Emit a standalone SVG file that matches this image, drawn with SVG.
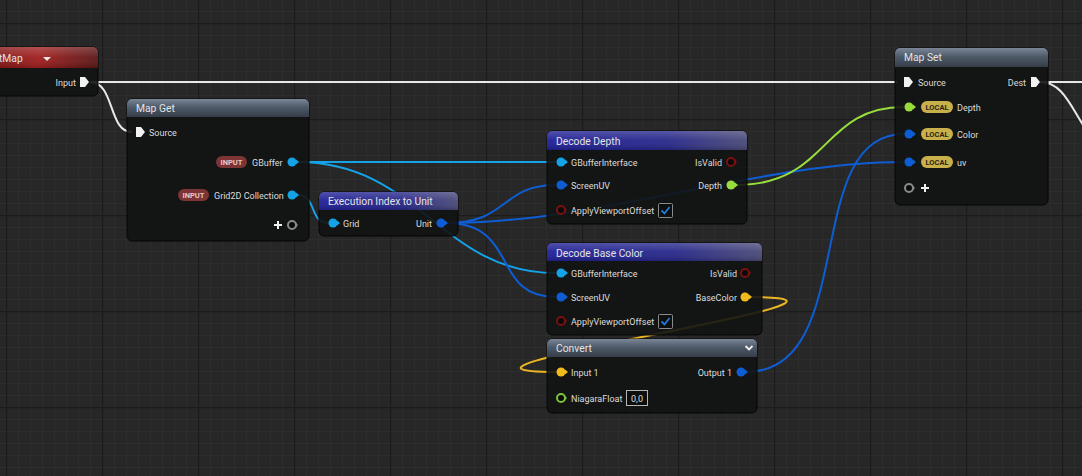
<svg xmlns="http://www.w3.org/2000/svg" width="1082" height="476" viewBox="0 0 1082 476">
<defs>
<pattern id="minor" width="12" height="12" x="6" y="11" patternUnits="userSpaceOnUse">
<path d="M0,0.5 H12 M0.5,0 V12" stroke="#2d2d2d" stroke-width="1" fill="none"/>
</pattern>
<pattern id="major" width="96" height="96" x="6" y="23" patternUnits="userSpaceOnUse">
<path d="M0,0.5 H96 M0.5,0 V96" stroke="#1c1c1c" stroke-width="1.5" fill="none"/>
</pattern>
<linearGradient id="hGray" x1="0" y1="0" x2="0" y2="1">
<stop offset="0" stop-color="#7a8696"/><stop offset="0.45" stop-color="#4f5b69"/><stop offset="1" stop-color="#353d48"/>
</linearGradient>
<linearGradient id="hBlue" x1="0" y1="0" x2="1" y2="0">
<stop offset="0" stop-color="#1f1f96"/><stop offset="0.6" stop-color="#27278a"/><stop offset="1" stop-color="#4a4a78"/>
</linearGradient>
<linearGradient id="hRed" x1="0" y1="0" x2="1" y2="0">
<stop offset="0" stop-color="#7a1414"/><stop offset="0.5" stop-color="#a01e1e"/><stop offset="1" stop-color="#5a1616"/>
</linearGradient>
<linearGradient id="gloss" x1="0" y1="0" x2="0" y2="1">
<stop offset="0" stop-color="#ffffff" stop-opacity="0.22"/><stop offset="0.5" stop-color="#ffffff" stop-opacity="0.05"/><stop offset="1" stop-color="#000000" stop-opacity="0.15"/>
</linearGradient>
<clipPath id="cMG"><rect x="127" y="99" width="182" height="142" rx="5"/></clipPath>
<clipPath id="cEI"><rect x="319" y="192" width="139" height="44" rx="5"/></clipPath>
<clipPath id="cDD"><rect x="547" y="131" width="200" height="93" rx="5"/></clipPath>
<clipPath id="cDB"><rect x="547" y="243" width="215" height="92" rx="5"/></clipPath>
<clipPath id="cCV"><rect x="547" y="339" width="210" height="74" rx="5"/></clipPath>
<clipPath id="cMS"><rect x="895" y="48" width="153" height="157" rx="5"/></clipPath>
<clipPath id="cTL"><rect x="-20" y="47" width="118" height="49" rx="5"/></clipPath>
</defs>
<style>
.body{fill:#121413;fill-opacity:0.9;stroke:#050505;stroke-width:1}
.title{font-family:Roboto,"Liberation Sans",sans-serif;font-size:10.3px;fill:#e4e4e4}
.lbl{font-family:Roboto,"Liberation Sans",sans-serif;font-size:9px;fill:#dcdcdc}
.r{text-anchor:end}
.badge{font-family:Roboto,"Liberation Sans",sans-serif;font-size:7.5px;font-weight:bold;text-anchor:middle}
.w{fill:none;stroke-width:2}
.exec{stroke:#e8e8e8}
.cyan{stroke:#15a3e8}
.blue{stroke:#0e5dd4}
.green{stroke:#98dd3c}
.yellow{stroke:#eab522}
.pc{fill:#15a3e8}
.pb{fill:#0e5dd4}
.pg{fill:#98dd3c}
.py{fill:#f2bb1c}
.ring{fill:#0a0a0a;stroke-width:2}
.epin{fill:#f2f2f2}
.ib{fill:#7c3434}
.lb{fill:#c9b04a}
.chk{fill:#0d0f0f;stroke:#8a8a8a;stroke-width:1}
.tick{fill:none;stroke:#1e7be0;stroke-width:1.8}
</style>
<rect width="1082" height="476" fill="#272727"/>
<rect width="1082" height="476" fill="url(#minor)"/>
<rect width="1082" height="476" fill="url(#major)"/>

<g id="connectors">
<path class="w exec" d="M90,82 H897"/>
<path class="w exec" d="M90,82 C115,82 108,132 132,132"/>
<path class="w exec" d="M1040,82 H1082"/>
<path class="w exec" d="M1040,82 C1062,82 1070,105 1085,128"/>
<path class="w cyan" d="M297,162 H556"/>
<path class="w cyan" d="M297,162 C420,162 440,273 556,273"/>
<path class="w cyan" d="M297,195 C318,195 308,223 329,223"/>
<path class="w blue" d="M446,223 C510,223 500,185 556,185"/>
<path class="w blue" d="M446,223 C520,223 490,297 556,297"/>
<path class="w blue" d="M446,223 C600,223 760,162 904,162"/>
<path class="w green" d="M736,185 C830,185 820,107 904,107"/>
<path class="w blue" d="M746,372 C860,372 800,134 904,134"/>
<path class="w yellow" d="M750,297 C930,297 380,372 556,372"/>
</g>

<g id="node-topleft">
<rect class="body" x="-20" y="47" width="118" height="49" rx="5"/>
<g clip-path="url(#cTL)"><rect x="-20" y="47" width="118" height="21" fill="url(#hRed)"/><rect x="-20" y="47" width="118" height="21" fill="url(#gloss)"/></g>
<text class="title" x="-1" y="62">tMap</text>
<path d="M43,57 H51 L47,61 Z" fill="#e8e8e8"/>
<text class="lbl r" x="76" y="86">Input</text>
<path class="epin" d="M80,77 H85 L89,82 L85,87 H80 Z"/>
</g>

<g id="node-mapget">
<rect class="body" x="127" y="99" width="182" height="142" rx="5"/>
<g clip-path="url(#cMG)"><rect x="127" y="99" width="182" height="18" fill="url(#hGray)"/></g>
<text class="title" x="136" y="112">Map Get</text>
<path class="epin" d="M136,127 H141 L145,132 L141,137 H136 Z"/>
<text class="lbl" x="149" y="135.5">Source</text>
<rect class="ib" x="216" y="156" width="31" height="12" rx="6"/>
<text class="badge" x="231.5" y="165" fill="#e6c7c7">INPUT</text>
<text class="lbl" x="252" y="165.5">GBuffer</text>
<circle class="pc" cx="292" cy="162" r="4.5"/><path class="pc" d="M296,159.5 L299,162 L296,164.5 Z"/>
<rect class="ib" x="178" y="189" width="31" height="12" rx="6"/>
<text class="badge" x="193.5" y="198" fill="#e6c7c7">INPUT</text>
<text class="lbl" x="214" y="198.5">Grid2D Collection</text>
<circle class="pc" cx="292" cy="195" r="4.5"/><path class="pc" d="M296,192.5 L299,195 L296,197.5 Z"/>
<path d="M274,225 H282 M278,221 V229" stroke="#f0f0f0" stroke-width="2"/>
<circle class="ring" cx="292" cy="225" r="4" stroke="#8a8a8a"/><path d="M296,223 L298,225 L296,227 Z" fill="#8a8a8a"/>
</g>

<g id="node-execindex">
<rect class="body" x="319" y="192" width="139" height="44" rx="5"/>
<g clip-path="url(#cEI)"><rect x="319" y="192" width="139" height="18" fill="url(#hBlue)"/><rect x="319" y="192" width="139" height="18" fill="url(#gloss)"/></g>
<text class="title" x="328" y="205">Execution Index to Unit</text>
<circle class="pc" cx="333" cy="223" r="4.5"/><path class="pc" d="M337,220.5 L340,223 L337,225.5 Z"/>
<text class="lbl" x="343" y="226.5">Grid</text>
<text class="lbl r" x="432" y="226.5">Unit</text>
<circle class="pb" cx="441" cy="223" r="4.5"/><path class="pb" d="M445,220.5 L448,223 L445,225.5 Z"/>
</g>

<g id="node-decodedepth">
<rect class="body" x="547" y="131" width="200" height="93" rx="5"/>
<g clip-path="url(#cDD)"><rect x="547" y="131" width="200" height="19" fill="url(#hBlue)"/><rect x="547" y="131" width="200" height="19" fill="url(#gloss)"/></g>
<text class="title" x="556" y="145">Decode Depth</text>
<circle class="pc" cx="561" cy="162" r="4.5"/><path class="pc" d="M565,159.5 L568,162 L565,164.5 Z"/>
<text class="lbl" x="571" y="165.5">GBufferInterface</text>
<text class="lbl r" x="722" y="165.5">IsValid</text>
<circle class="ring" cx="731" cy="162" r="4" stroke="#7a1010"/><path d="M735,160 L737,162 L735,164 Z" fill="#7a1010"/>
<circle class="pb" cx="561" cy="185" r="4.5"/><path class="pb" d="M565,182.5 L568,185 L565,187.5 Z"/>
<text class="lbl" x="571" y="188.5">ScreenUV</text>
<text class="lbl r" x="722" y="188.5">Depth</text>
<circle class="pg" cx="731" cy="185" r="4.5"/><path class="pg" d="M735,182.5 L738,185 L735,187.5 Z"/>
<circle class="ring" cx="561" cy="210" r="4" stroke="#7a1010"/><path d="M565,208 L567,210 L565,212 Z" fill="#7a1010"/>
<text class="lbl" x="571" y="213.5">ApplyViewportOffset</text>
<rect class="chk" x="658.5" y="203.5" width="14" height="14" rx="1"/>
<path class="tick" d="M661.5,210.5 L664.5,213.5 L669.5,207"/>
</g>

<g id="node-decodebasecolor">
<rect class="body" x="547" y="243" width="215" height="92" rx="5"/>
<g clip-path="url(#cDB)"><rect x="547" y="243" width="215" height="18" fill="url(#hBlue)"/><rect x="547" y="243" width="215" height="18" fill="url(#gloss)"/></g>
<text class="title" x="556" y="257">Decode Base Color</text>
<circle class="pc" cx="561" cy="273" r="4.5"/><path class="pc" d="M565,270.5 L568,273 L565,275.5 Z"/>
<text class="lbl" x="571" y="276.5">GBufferInterface</text>
<text class="lbl r" x="737" y="276.5">IsValid</text>
<circle class="ring" cx="745" cy="273" r="4" stroke="#7a1010"/><path d="M749,271 L751,273 L749,275 Z" fill="#7a1010"/>
<circle class="pb" cx="561" cy="297" r="4.5"/><path class="pb" d="M565,294.5 L568,297 L565,299.5 Z"/>
<text class="lbl" x="571" y="300.5">ScreenUV</text>
<text class="lbl r" x="737" y="300.5">BaseColor</text>
<circle class="py" cx="745" cy="297" r="4.5"/><path class="py" d="M749,294.5 L752,297 L749,299.5 Z"/>
<circle class="ring" cx="561" cy="321" r="4" stroke="#7a1010"/><path d="M565,319 L567,321 L565,323 Z" fill="#7a1010"/>
<text class="lbl" x="571" y="324.5">ApplyViewportOffset</text>
<rect class="chk" x="658.5" y="314.5" width="14" height="14" rx="1"/>
<path class="tick" d="M661.5,321.5 L664.5,324.5 L669.5,318"/>
</g>

<g id="node-convert">
<rect class="body" x="547" y="339" width="210" height="74" rx="5"/>
<g clip-path="url(#cCV)"><rect x="547" y="339" width="210" height="18" fill="url(#hGray)"/></g>
<text class="title" x="556" y="352">Convert</text>
<path d="M745.5,346 L749,349.5 L752.5,346" fill="none" stroke="#f0f0f0" stroke-width="1.8"/>
<circle class="py" cx="561" cy="372" r="4.5"/><path class="py" d="M565,369.5 L568,372 L565,374.5 Z"/>
<text class="lbl" x="571" y="375.5">Input 1</text>
<text class="lbl r" x="732" y="375.5">Output 1</text>
<circle class="pb" cx="741" cy="372" r="4.5"/><path class="pb" d="M745,369.5 L748,372 L745,374.5 Z"/>
<circle class="ring" cx="561" cy="398" r="4" stroke="#7cc43a"/><path d="M565,396 L567,398 L565,400 Z" fill="#7cc43a"/>
<text class="lbl" x="571" y="401.5">NiagaraFloat</text>
<rect x="626.5" y="390.5" width="21" height="15" fill="#0d0f0f" stroke="#b5b5b5" stroke-width="1"/>
<text class="lbl" x="637" y="401.5" text-anchor="middle">0,0</text>
</g>

<g id="node-mapset">
<rect class="body" x="895" y="48" width="153" height="157" rx="5"/>
<g clip-path="url(#cMS)"><rect x="895" y="48" width="153" height="19" fill="url(#hGray)"/></g>
<text class="title" x="904" y="61">Map Set</text>
<path class="epin" d="M904,77 H909 L913,82 L909,87 H904 Z"/>
<text class="lbl" x="918" y="85.5">Source</text>
<text class="lbl r" x="1026" y="85.5">Dest</text>
<path class="epin" d="M1031,77 H1036 L1040,82 L1036,87 H1031 Z"/>
<circle class="pg" cx="909" cy="107" r="4.5"/><path class="pg" d="M913,104.5 L916,107 L913,109.5 Z"/>
<rect class="lb" x="921" y="101" width="32" height="12" rx="6"/>
<text class="badge" x="937" y="110" fill="#2a2615">LOCAL</text>
<text class="lbl" x="957" y="110.5">Depth</text>
<circle class="pb" cx="909" cy="134" r="4.5"/><path class="pb" d="M913,131.5 L916,134 L913,136.5 Z"/>
<rect class="lb" x="921" y="128" width="32" height="12" rx="6"/>
<text class="badge" x="937" y="137" fill="#2a2615">LOCAL</text>
<text class="lbl" x="957" y="137.5">Color</text>
<circle class="pb" cx="909" cy="162" r="4.5"/><path class="pb" d="M913,159.5 L916,162 L913,164.5 Z"/>
<rect class="lb" x="921" y="156" width="32" height="12" rx="6"/>
<text class="badge" x="937" y="165" fill="#2a2615">LOCAL</text>
<text class="lbl" x="957" y="165.5">uv</text>
<circle class="ring" cx="909" cy="188" r="4" stroke="#8a8a8a"/><path d="M913,186 L915,188 L913,190 Z" fill="#8a8a8a"/>
<path d="M921,188 H929 M925,184 V192" stroke="#f0f0f0" stroke-width="2"/>
</g>
</svg>
